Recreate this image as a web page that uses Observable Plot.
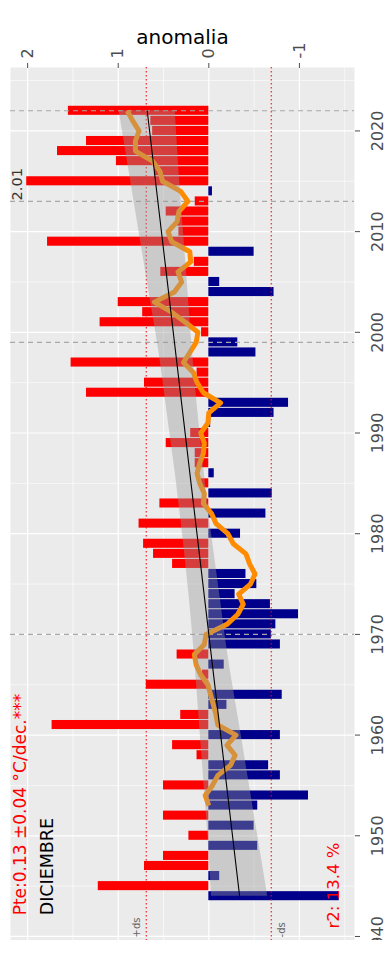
<!DOCTYPE html>
<html>
<head>
<meta charset="utf-8">
<script src="https://cdn.jsdelivr.net/npm/d3@7"></script>
<script src="https://cdn.jsdelivr.net/npm/@observablehq/plot@0.6"></script>
<style>
  html, body { margin: 0; padding: 0; background: #ffffff; }
  #chart { width: 389px; height: 966px; }
</style>
</head>
<body>
<div id="chart"></div>
<script>
// December temperature anomaly (°C) per year
const years = [
  1944, 1945, 1946, 1947, 1948, 1949, 1950, 1951, 1952, 1953,
  1954, 1955, 1956, 1957, 1958, 1959, 1960, 1961, 1962, 1963,
  1964, 1965, 1966, 1967, 1968, 1969, 1970, 1971, 1972, 1973,
  1974, 1975, 1976, 1977, 1978, 1979, 1980, 1981, 1982, 1983,
  1984, 1985, 1986, 1987, 1988, 1989, 1990, 1991, 1992, 1993,
  1994, 1995, 1996, 1997, 1998, 1999, 2000, 2001, 2002, 2003,
  2004, 2005, 2006, 2007, 2008, 2009, 2010, 2011, 2012, 2013,
  2014, 2015, 2016, 2017, 2018, 2019, 2020, 2021, 2022
];
const anomalies = [
  -1.44, 1.22, -0.12, 0.71, 0.50, -0.54, 0.22, -0.50, 0.50, -0.54,
  -1.10, 0.50, -0.79, -0.66, 0.13, 0.40, -0.79, 1.73, 0.31, -0.20,
  -0.81, 0.69, 0.07, -0.17, 0.35, -0.79, -0.69, -0.74, -0.99, -0.68,
  -0.29, -0.53, -0.41, 0.40, 0.61, 0.72, -0.35, 0.77, -0.63, 0.54,
  -0.70, 0.09, -0.06, 0.15, 0.15, 0.47, 0.20, -0.02, -0.72, -0.88,
  1.35, 0.71, 0.13, 1.52, -0.52, -0.32, 0.08, 1.20, 0.73, 1.00,
  -0.72, -0.12, 0.53, 0.16, -0.50, 1.78, 0.33, 0.35, 0.47, 0.15,
  -0.04, 2.01, 0.60, 1.02, 1.67, 1.35, 0.62, 0.64, 1.55
];

// 10-year running mean (orange curve)
const meanYears = [
  1953, 1954, 1955, 1956, 1957, 1958, 1959, 1960, 1961, 1962,
  1963, 1964, 1965, 1966, 1967, 1968, 1969, 1970, 1971, 1972,
  1973, 1974, 1975, 1976, 1977, 1978, 1979, 1980, 1981, 1982,
  1983, 1984, 1985, 1986, 1987, 1988, 1989, 1990, 1991, 1992,
  1993, 1994, 1995, 1996, 1997, 1998, 1999, 2000, 2001, 2002,
  2003, 2004, 2005, 2006, 2007, 2008, 2009, 2010, 2011, 2012,
  2013, 2014, 2015, 2016, 2017, 2018, 2019, 2020, 2021, 2022
];
const meanValues = [
  0.00, 0.04, -0.04, -0.10, -0.24, -0.29, -0.20, -0.30, -0.10, -0.08,
  -0.05, -0.02, 0.01, 0.09, 0.14, 0.16, 0.05, 0.03, -0.20, -0.32,
  -0.38, -0.33, -0.46, -0.51, -0.45, -0.41, -0.27, -0.21, -0.08, -0.03,
  0.06, 0.05, 0.10, 0.13, 0.10, 0.06, 0.05, 0.09, 0.01, 0.00,
  -0.13, 0.06, 0.13, 0.17, 0.28, 0.21, 0.14, 0.12, 0.26, 0.41,
  0.60, 0.38, 0.30, 0.34, 0.20, 0.21, 0.41, 0.45, 0.35, 0.33,
  0.23, 0.31, 0.51, 0.54, 0.62, 0.81, 0.81, 0.77, 0.84, 0.90
];

// Linear trend and its confidence band
const trendYears = [1944, 2022];
const trendValues = [-0.34, 0.68];
const bandYears = [1944, 1950, 1956, 1962, 1968, 1974, 1980, 1983, 1986, 1992, 1998, 2004, 2010, 2016, 2022];
const bandLow   = [-0.65, -0.54, -0.43, -0.32, -0.21, -0.12, -0.03, 0.01, 0.05, 0.12, 0.18, 0.23, 0.28, 0.33, 0.37];
const bandHigh  = [-0.03, 0.01, 0.06, 0.11, 0.16, 0.22, 0.29, 0.33, 0.37, 0.46, 0.55, 0.66, 0.77, 0.88, 0.99];

// Reference lines and axis ticks
const markedYears = [1970, 1999, 2013, 2022];
const sd = 0.69;
const anomalyTicks = [2, 1, 0, -1];
const anomalyMinor = [1.5, 0.5, -0.5, -1.5];
const yearTicks = [1940, 1950, 1960, 1970, 1980, 1990, 2000, 2010, 2020];
const yearMinor = [1945, 1955, 1965, 1975, 1985, 1995, 2005, 2015, 2025];

const bars = years.map((year, i) => ({year, value: anomalies[i]}));
const runMean = meanYears.map((year, i) => ({year, value: meanValues[i]}));
const trend = trendYears.map((year, i) => ({year, value: trendValues[i]}));
const band = bandYears.map((year, i) => ({year, lo: bandLow[i], hi: bandHigh[i]}));

const halfBar = 0.45;

const chart = Plot.plot({
  width: 389,
  height: 940,
  marginTop: 67,
  marginLeft: 10,
  marginRight: 35,
  marginBottom: 0,
  style: {fontFamily: "'DejaVu Sans', sans-serif", background: "#ffffff", overflow: "hidden"},
  x: {domain: [2.189, -1.608], axis: null},
  y: {domain: [1939.6, 2026.3], axis: null},
  marks: [
    Plot.frame({fill: "#ebebeb", stroke: "none"}),
    Plot.ruleX(anomalyMinor, {stroke: "#ffffff", strokeWidth: 0.6}),
    Plot.ruleY(yearMinor, {stroke: "#ffffff", strokeWidth: 0.6}),
    Plot.ruleX(anomalyTicks, {stroke: "#ffffff", strokeWidth: 1.2}),
    Plot.ruleY(yearTicks, {stroke: "#ffffff", strokeWidth: 1.2}),

    // anomaly bars: warm in red, cold in dark blue
    Plot.rect(bars.filter(d => d.value >= 0), {
      x1: 0, x2: "value",
      y1: d => d.year - halfBar, y2: d => d.year + halfBar,
      fill: "#ff0000"
    }),
    Plot.rect(bars.filter(d => d.value < 0), {
      x1: 0, x2: "value",
      y1: d => d.year - halfBar, y2: d => d.year + halfBar,
      fill: "#00008b"
    }),

    // ± one standard deviation
    Plot.ruleX([sd, -sd], {stroke: "#ff0000", strokeOpacity: 0.75, strokeWidth: 1.4, strokeDasharray: "1.4,2.6"}),
    // marked years
    Plot.ruleY(markedYears, {stroke: "#a8a8a8", strokeWidth: 1.1, strokeDasharray: "5,4"}),

    // running mean
    Plot.line(runMean, {x: "value", y: "year", stroke: "#ff8c00", strokeWidth: 5, strokeLinejoin: "round", strokeLinecap: "butt"}),

    // trend with its band
    Plot.areaX(band, {y: "year", x1: "lo", x2: "hi", fill: "#999999", fillOpacity: 0.4, curve: "natural"}),
    Plot.line(trend, {x: "value", y: "year", stroke: "#000000", strokeWidth: 1.1}),

    // axes
    Plot.axisX(anomalyTicks, {
      anchor: "top", tickSize: 5, tickPadding: 4, tickRotate: -90,
      textAnchor: "start", lineAnchor: "middle",
      fontSize: 16, color: "#4d4d4d", tickFormat: d => String(d), label: null
    }),
    Plot.axisY(yearTicks, {
      anchor: "right", tickSize: 5, tickPadding: 18, tickRotate: -90,
      textAnchor: "middle", lineAnchor: "middle",
      fontSize: 16, color: "#4d4d4d", tickFormat: d => String(d), label: null
    }),
    Plot.text(["anomalia"], {frameAnchor: "top", dy: -38, fontSize: 20, fill: "#000000"}),

    // annotations
    Plot.text(["Pte:0.13 ±0.04 °C/dec.***"], {x: 2.073, y: 1942.1, rotate: -90, textAnchor: "start", lineAnchor: "middle", fontSize: 17, fill: "#ff0000"}),
    Plot.text(["DICIEMBRE"], {x: 1.78, y: 1942.1, rotate: -90, textAnchor: "start", lineAnchor: "middle", fontSize: 17.5, fill: "#000000"}),
    Plot.text(["r2: 13.4 %"], {x: -1.376, y: 1940.8, rotate: -90, textAnchor: "start", lineAnchor: "middle", fontSize: 16.5, fill: "#ff0000"}),
    Plot.text(["+ds"], {x: 0.79, y: 1939.9, rotate: -90, textAnchor: "start", lineAnchor: "middle", fontSize: 10, fill: "#666666"}),
    Plot.text(["-ds"], {x: -0.81, y: 1939.9, rotate: -90, textAnchor: "start", lineAnchor: "middle", fontSize: 10, fill: "#666666"}),
    Plot.text(["2.01"], {x: 2.115, y: 2013.1, rotate: -90, textAnchor: "start", lineAnchor: "middle", fontSize: 14.5, fill: "#333333"})
  ]
});

document.getElementById("chart").appendChild(chart);
</script>
</body>
</html>
